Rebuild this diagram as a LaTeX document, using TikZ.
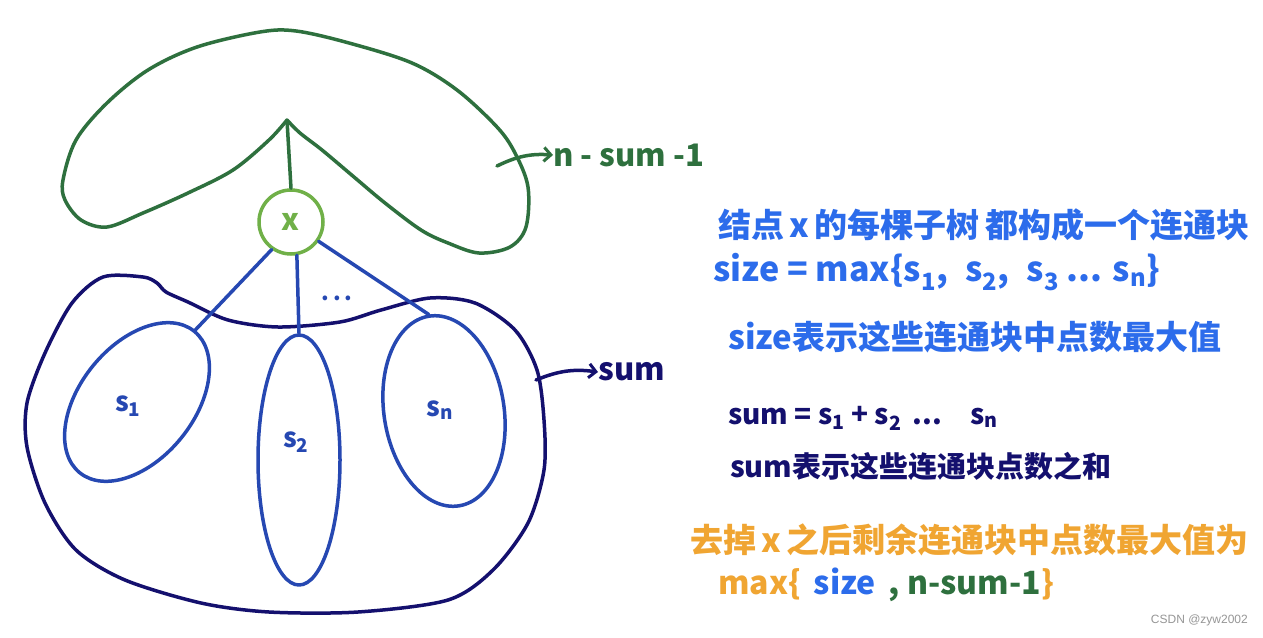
\documentclass[tikz,border=0pt]{standalone}
\usepackage{fontspec}
\newfontfamily\cjk{Noto Sans CJK SC}
\newfontfamily\wm{Liberation Sans}
\usetikzlibrary{shapes.geometric,arrows.meta}
\definecolor{dkgreen}{RGB}{46,112,62}
\definecolor{ltgreen}{RGB}{112,176,72}
\definecolor{navy}{RGB}{20,16,110}
\definecolor{ellblue}{RGB}{38,72,178}
\definecolor{txtblue}{RGB}{44,108,235}
\definecolor{orng}{RGB}{240,165,50}
\definecolor{wmgray}{RGB}{150,150,150}
\newcommand\fs[1]{\cjk\bfseries\fontsize{#1}{#1}\selectfont}
\begin{document}
\begin{tikzpicture}[x=1pt,y=-1pt,
  stroke/.style={line width=3.5pt,line cap=round,line join=round},
  ell/.style={draw=ellblue,stroke,ellipse,inner sep=0pt},
  tag/.style={inner sep=0pt,font=\fs{31}},
  lbl/.style={inner sep=0pt,text=ellblue,font=\fs{27}},
  hand/.style={-{Straight Barb[length=7pt,width=14pt,line width=3pt]}}]
\useasboundingbox[fill=white] (0,0) rectangle (1263,637);
% green region
\draw[dkgreen,stroke] plot[smooth,tension=0.55] coordinates {(287,120) (269,140) (233,170) (188,193) (143,213) (107,227) (81,220) (65,200) (63,180) (76,140) (107,103) (148,70) (197,47) (260,32) (296,31) (349,43) (412,63) (457,90) (497,127) (515,153) (528,187) (526,227) (510,247) (479,253) (448,243) (421,230) (385,203) (354,177) (322,150) (300,133) (287,120)};
\coordinate (cusp) at (287,120);
% navy region
\draw[navy,stroke] plot[smooth cycle,tension=0.5] coordinates {(103,277) (143,277) (157,283) (166,292) (188,302) (228,320) (278,327) (340,322) (381,310) (430,298) (475,303) (515,330) (537,370) (544,420) (544,470) (528,523) (493,570) (448,600) (358,612) (269,612) (201,603) (125,580) (76,550) (45,503) (27,447) (27,403) (45,353) (72,303)};
% node x
\node[draw=ltgreen,stroke,circle,minimum size=64pt,inner sep=0pt] (x) at (291,222) {};
\node[inner sep=0pt,text=ltgreen,font=\fs{30}] (xl) at (290,222) {x};
\draw[dkgreen,stroke] (cusp) -- (x.north);
% subtree ellipses
\node[ell,minimum width=182pt,minimum height=114pt,rotate=51] (s1) at (137,402) {};
\node[ell,minimum width=82pt,minimum height=250pt] (s2) at (299,460) {};
\node[ell,minimum width=120pt,minimum height=192pt,rotate=9] (sn) at (444,411) {};
\draw[ellblue,stroke] (x.-125) -- (s1.east);
\draw[ellblue,stroke] (x.-80) -- (s2.north);
\draw[ellblue,stroke] (x.-35) -- (sn.north);
\node[inner sep=0pt,text=ellblue,font=\fs{22}] (dots) at (337,298) {.\,.\,.};
\node[lbl] (l1) at (128,406) {s\textsubscript{1}};
\node[lbl] (l2) at (296,442) {s\textsubscript{2}};
\node[lbl] (ln) at (440,410) {s\textsubscript{n}};
% labels with arrows
\coordinate (ga) at (497,166);
\node[tag,text=dkgreen,anchor=west] (nsum) at (553,155) {n - sum -1};
\draw[dkgreen,stroke,hand] (ga) to[bend left=15] (nsum.west);
\coordinate (na) at (536,380);
\node[tag,text=navy,anchor=west] (sum) at (598,372) {sum};
\draw[navy,stroke,hand] (na) to[bend left=15] (sum.west);
% right texts
\node[tag,text=txtblue,anchor=west,font=\fs{33}] (t1) at (718,225) {结点\,x\,的每棵子树\,都构成一个连通块};
\node[tag,text=txtblue,anchor=west,font=\fs{34}] (t2) at (713,272) {size = max\{s\textsubscript{1},\; s\textsubscript{2},\; s\textsubscript{3} ... s\textsubscript{n}\}};
\node[tag,text=txtblue,anchor=west,font=\fs{33}] (t3) at (728,337) {size表示这些连通块中点数最大值};
\node[tag,text=navy,anchor=west,font=\fs{28}] (t4) at (728,418) {sum = s\textsubscript{1} + s\textsubscript{2} \,...\quad s\textsubscript{n}};
\node[tag,text=navy,anchor=west,font=\fs{29}] (t5) at (730,466) {sum表示这些连通块点数之和};
\node[tag,text=orng,anchor=west,font=\fs{33}] (t6) at (690,540) {去掉\,x\,之后剩余连通块中点数最大值为};
\node[tag,anchor=west,font=\fs{32}] (t7) at (718,585) {\color{orng}max\{\, \color{txtblue}size\, \color{dkgreen}, n-sum-1\color{orng}\}};
\node[inner sep=0pt,text=wmgray,anchor=east,font=\wm\fontsize{12}{14}\selectfont] (wm) at (1248,620) {CSDN @zyw2002};
\end{tikzpicture}
\end{document}
